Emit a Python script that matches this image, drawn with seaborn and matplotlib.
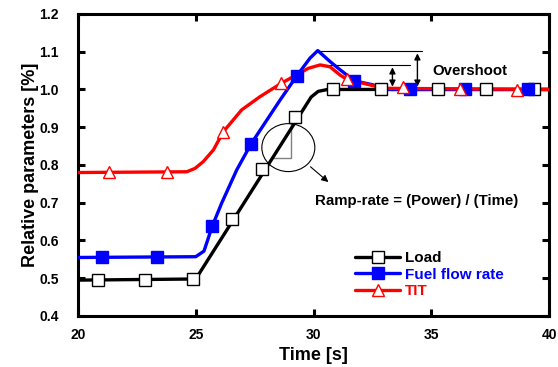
import matplotlib
matplotlib.use("Agg")
import matplotlib.pyplot as plt
from matplotlib.lines import Line2D
from matplotlib.patches import Ellipse
import seaborn as sns
import pandas as pd

sns.set_theme(style="white")
plt.rcParams['font.family'] = ['Liberation Sans', 'DejaVu Sans']
plt.rcParams['font.weight'] = 'bold'
plt.rcParams['text.color'] = 'black'
plt.rcParams['axes.labelcolor'] = 'black'
plt.rcParams['xtick.color'] = 'black'
plt.rcParams['ytick.color'] = 'black'

# ---- data ----
load_line_t = [20, 25.0, 29.9, 30.2, 30.6, 40]
load_line_v = [0.495, 0.498, 0.98, 0.995, 1.0, 1.0]
load_mk_t = [20.84, 22.85, 24.87, 26.53, 27.80, 29.23, 30.84, 32.87, 35.27, 37.31, 39.36]
load_mk_v = [0.494, 0.494, 0.498, 0.657, 0.790, 0.928, 1.0, 1.0, 1.0, 1.0, 1.0]

fuel_line_t = [20, 25.0, 25.35, 25.70, 26.10, 26.74, 27.35, 28.58, 29.29, 29.85, 30.18,
               30.70, 31.05, 31.72, 32.54, 32.82, 33.3, 40]
fuel_line_v = [0.555, 0.557, 0.572, 0.638, 0.699, 0.787, 0.856, 0.972, 1.036, 1.083, 1.103,
               1.074, 1.056, 1.023, 1.012, 1.003, 1.0, 1.0]
fuel_mk_t = [21.03, 23.37, 25.70, 27.35, 29.29, 31.72, 34.10, 36.43, 39.12]
fuel_mk_v = [0.555, 0.555, 0.638, 0.856, 1.036, 1.023, 1.0, 1.0, 1.0]

tit_line_t = [20, 24.62, 24.97, 25.32, 25.75, 26.17, 26.95, 27.73, 28.62, 29.14, 29.78,
              30.28, 30.70, 31.13, 31.41, 32.40, 33.0, 40]
tit_line_v = [0.780, 0.782, 0.791, 0.809, 0.840, 0.888, 0.946, 0.981, 1.016, 1.034, 1.056,
              1.065, 1.060, 1.038, 1.027, 1.012, 1.003, 1.0]
tit_mk_t = [21.33, 23.77, 26.17, 28.62, 31.41, 33.81, 36.22, 38.65]
tit_mk_v = [0.782, 0.782, 0.888, 1.016, 1.027, 1.006, 1.0, 0.999]

labels = ["Load", "Fuel flow rate", "TIT"]
colors = ["#000000", "#0000ff", "#ff0000"]
x_ticks = [20, 25, 30, 35, 40]
y_ticks = [0.4, 0.5, 0.6, 0.7, 0.8, 0.9, 1.0, 1.1, 1.2]

fig = plt.figure(figsize=(5.58, 3.67), dpi=100)
ax = fig.add_axes([0.1398, 0.139, 0.8442, 0.823])

lw = 2.4
lines = [(load_line_t, load_line_v), (fuel_line_t, fuel_line_v), (tit_line_t, tit_line_v)]
marks = [(load_mk_t, load_mk_v), (fuel_mk_t, fuel_mk_v), (tit_mk_t, tit_mk_v)]
mstyle = [dict(marker='s', mfc='white', mec='black'),
          dict(marker='s', mfc='#0000ff', mec='#0000ff'),
          dict(marker='^', mfc='white', mec='#ff0000')]
for (t, v), c, z in zip(lines, colors, [2, 3, 4]):
    sns.lineplot(x=t, y=v, ax=ax, color=c, linewidth=lw, sort=False, zorder=z, legend=False)
for (t, v), ms, z in zip(marks, mstyle, [5, 6, 7]):
    df = pd.DataFrame({"t": t, "v": v})
    ax.plot(df["t"], df["v"], linestyle='none', markersize=8.3, markeredgewidth=1.0, zorder=z, **ms)

ax.set_xlim(20, 40)
ax.set_ylim(0.4, 1.2)
ax.set_xticks(x_ticks)
ax.set_yticks(y_ticks)
ax.set_xticklabels([str(x) for x in x_ticks], fontsize=10, fontweight='bold')
ax.set_yticklabels([f"{y:.1f}" for y in y_ticks], fontsize=10, fontweight='bold')
ax.tick_params(direction='in', length=5, width=2.2, top=True, right=True, bottom=True, left=True,
               colors='black')
ax.tick_params(axis='x', pad=9)
ax.tick_params(axis='y', pad=14)
for s in ax.spines.values():
    s.set_linewidth(2.2)
    s.set_color('black')
ax.set_xlabel("Time [s]", fontsize=13, fontweight='bold', labelpad=3)
ax.set_ylabel("Relative parameters [%]", fontsize=13, fontweight='bold', labelpad=0)

# annotations: overshoot
ax.plot([30.2, 34.59], [1.103, 1.103], color='black', lw=0.8, zorder=1)
ax.plot([30.2, 34.1], [1.066, 1.066], color='black', lw=0.8, zorder=1)
ax.annotate("", xy=(34.41, 1.103), xytext=(34.41, 1.0),
            arrowprops=dict(arrowstyle='<|-|>', color='black', lw=1.0, mutation_scale=9))
ax.annotate("", xy=(33.35, 1.066), xytext=(33.35, 1.0),
            arrowprops=dict(arrowstyle='<|-|>', color='black', lw=1.0, mutation_scale=9))
ax.text(35.05, 1.049, "Overshoot", fontsize=10.8, fontweight='bold', va='center', ha='left')

# ramp-rate annotation
ax.add_patch(Ellipse((28.93, 0.846), 2.25, 0.127, fill=False, edgecolor='black', lw=0.8, zorder=8))
ax.plot([29.03, 29.03, 28.27], [0.928, 0.818, 0.818], color='#808080', lw=1.0, zorder=1)
ax.annotate("", xy=(30.72, 0.750), xytext=(29.78, 0.800),
            arrowprops=dict(arrowstyle='-|>', color='black', lw=0.8, mutation_scale=10))
ax.text(30.06, 0.705, "Ramp-rate = (Power) / (Time)", fontsize=10.8, fontweight='bold',
        va='center', ha='left')

handles = [Line2D([0], [0], color=c, lw=lw, markersize=8.3, markeredgewidth=1.0, **ms)
           for c, ms in zip(colors, mstyle)]
leg = ax.legend(handles, labels, loc='upper left', bbox_to_anchor=(0.588, 0.215),
                frameon=False, fontsize=11, handlelength=2.95, handletextpad=0.33,
                labelspacing=0.17, borderaxespad=0, borderpad=0)
for txt, c in zip(leg.get_texts(), colors):
    txt.set_color(c)
    txt.set_fontweight('bold')

fig.savefig("out.png", dpi=100)
